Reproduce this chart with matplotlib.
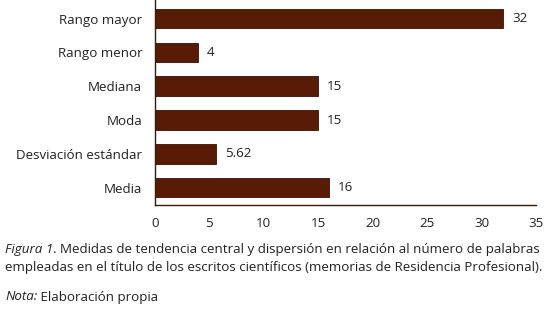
import matplotlib
matplotlib.use("Agg")
import matplotlib.pyplot as plt
from matplotlib.transforms import offset_copy

categories = ["Media", "Desviación estándar", "Moda", "Mediana", "Rango menor", "Rango mayor"]
values = [16, 5.62, 15, 15, 4, 32]
value_labels = ["16", "5.62", "15", "15", "4", "32"]
xticks = [0, 5, 10, 15, 20, 25, 30, 35]

plt.rcParams['font.family'] = ['Open Sans', 'DejaVu Sans']
FS = 9.6
TC = '#222222'

fig = plt.figure(figsize=(5.51, 3.09), dpi=100)
ax = fig.add_axes([0.281, 0.338, 0.692, 0.662])
y = range(len(categories))
ax.barh(y, values, height=0.58, color='#581b06', edgecolor='#3a0f02', linewidth=0.6)
for yi, v, lab in zip(y, values, value_labels):
    ax.text(v + 0.8, yi, lab, va='center', ha='left', fontsize=FS, color=TC)
ax.set_xlim(0, 35)
ax.set_ylim(-0.5, 5.55)
ax.set_yticks(list(y))
ax.set_yticklabels(categories, fontsize=FS, color=TC)
ax.set_xticks(xticks)
ax.set_xticklabels([str(t) for t in xticks], fontsize=FS, color=TC)
ax.tick_params(axis='both', length=0)
ax.tick_params(axis='y', pad=9)
ax.tick_params(axis='x', pad=9)
for s in ['top', 'right']:
    ax.spines[s].set_visible(False)
for s in ['left', 'bottom']:
    ax.spines[s].set_color('#3a1a0a')
    ax.spines[s].set_linewidth(1.0)

renderer = fig.canvas.get_renderer()

def run(x, ypix, parts):
    yy = 1 - ypix / 309
    t = fig.text(x, yy, parts[0][0], fontsize=FS, style=parts[0][1], va='center', color=TC)
    for txt, st in parts[1:]:
        ext = t.get_window_extent(renderer)
        t = fig.text(ext.x1 / fig.bbox.width, yy, txt, fontsize=FS, style=st, va='center', color=TC)

run(0.009, 249, [("Figura 1", 'italic'),
                 (". Medidas de tendencia central y dispersión en relación al número de palabras", 'normal')])
run(0.009, 267, [("empleadas en el título de los escritos científicos (memorias de Residencia Profesional).", 'normal')])
run(0.009, 297, [("Nota:", 'italic'), (" Elaboración propia", 'normal')])

fig.savefig("out.png", dpi=100)
